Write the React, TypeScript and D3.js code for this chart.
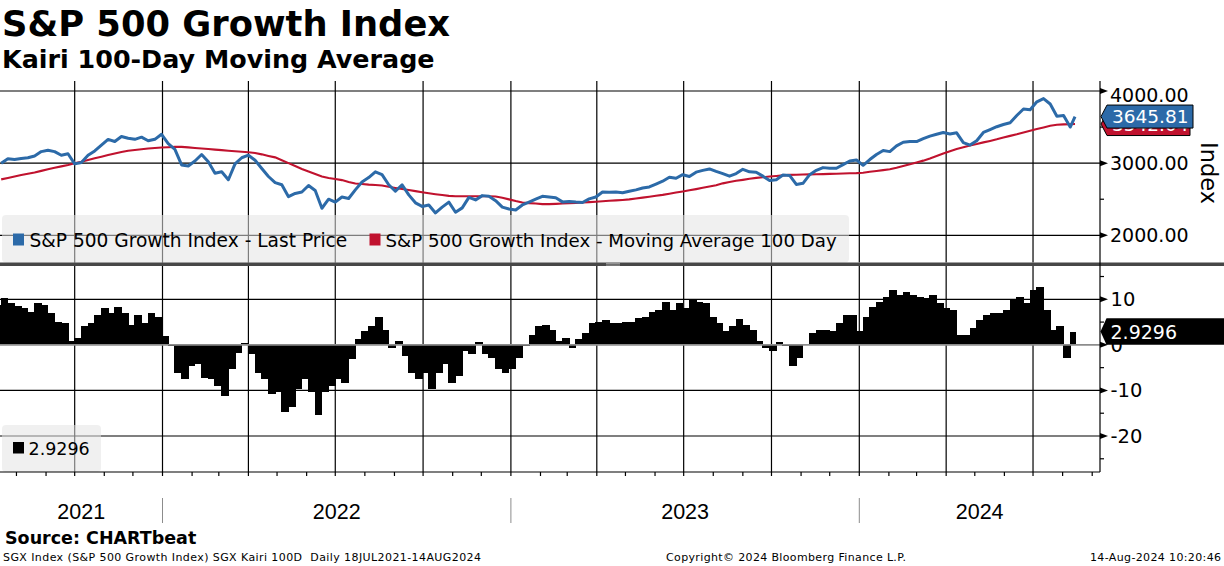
import * as d3 from "d3";

// weekly closes (Fridays), 16 Jul 2021 .. 9 Aug 2024, then the last print
const firstWeek = new Date(2021, 6, 16);
const weekStop = new Date(2024, 7, 10);
const lastDay = new Date(2024, 7, 14);

const priceWeekly = [
  3000, 3060, 3050, 3065, 3074, 3100, 3160, 3180, 3160, 3110,
  3130, 2990, 3010, 3110, 3170, 3250, 3329, 3300, 3370, 3345,
  3330, 3360, 3310, 3330, 3400, 3270, 3190, 2975, 2960, 3030,
  3120, 3018, 2860, 2880, 2770, 2990, 3075, 3110, 3040, 2926,
  2815, 2730, 2700, 2535, 2580, 2600, 2690, 2620, 2375, 2500,
  2460, 2530, 2510, 2630, 2740, 2800, 2880, 2840, 2700, 2610,
  2700, 2560, 2450, 2400, 2420, 2310, 2390, 2460, 2320, 2380,
  2525, 2490, 2550, 2540, 2480, 2390, 2365, 2350, 2420, 2460,
  2500, 2540, 2530, 2520, 2463, 2470, 2460, 2455, 2505, 2530,
  2600, 2595, 2600, 2590, 2610, 2630, 2655, 2670, 2710, 2750,
  2805, 2790, 2840, 2815, 2875, 2900, 2920, 2885, 2855, 2820,
  2855, 2915, 2880, 2875, 2820, 2760, 2770, 2835, 2830, 2705,
  2720, 2840, 2900, 2938, 2930, 2930, 2980, 3030, 3045, 2970,
  3050, 3120, 3175, 3160, 3240, 3290, 3300, 3300, 3340, 3375,
  3400, 3425, 3405, 3420, 3285, 3250, 3310, 3425, 3465, 3505,
  3535, 3560, 3660, 3750, 3740, 3850, 3895, 3820, 3650, 3660,
  3500,
];

const maWeekly = [
  2775, 2795, 2815, 2835, 2852, 2870, 2893, 2915, 2935, 2955,
  2975, 2998, 3020, 3045, 3068, 3090, 3112, 3135, 3155, 3172,
  3182, 3192, 3202, 3210, 3216, 3220, 3225, 3226, 3218, 3210,
  3203, 3196, 3188, 3180, 3172, 3165, 3158, 3150, 3140, 3122,
  3100, 3080, 3040, 3000, 2960, 2920, 2885, 2850, 2815, 2795,
  2780, 2765, 2740, 2718, 2710, 2702, 2697, 2690, 2672, 2656,
  2642, 2628, 2612, 2597, 2583, 2570, 2558, 2547, 2542, 2542,
  2542, 2542, 2542, 2542, 2538, 2520, 2498, 2475, 2455, 2446,
  2440, 2432, 2432, 2436, 2441, 2445, 2450, 2455, 2460, 2466,
  2472, 2478, 2484, 2490, 2498, 2510, 2522, 2535, 2548, 2560,
  2575, 2592, 2608, 2624, 2640, 2658, 2676, 2694, 2720, 2740,
  2755, 2768, 2783, 2796, 2805, 2815, 2822, 2831, 2838, 2840,
  2842, 2844, 2846, 2848, 2851, 2854, 2857, 2860, 2862, 2868,
  2880, 2892, 2903, 2915, 2935, 2960, 2985, 3010, 3035, 3065,
  3100, 3135, 3165, 3195, 3220, 3245, 3265, 3288, 3308, 3330,
  3355, 3378, 3400, 3425, 3448, 3472, 3495, 3518, 3532, 3538,
  3540,
];

const kairiWeekly = [
  8.8, 10.2, 9.1, 8.6, 8.0, 7.2, 9.1, 8.8, 7.0, 5.1,
  4.8, 0.8, 1.5, 4.1, 4.9, 6.6, 8.0, 7.0, 8.4, 7.0,
  4.4, 6.6, 4.8, 7.0, 6.2, 1.9, -0.3, -6.1, -7.5, -4.6,
  -4.3, -7.2, -7.5, -9.0, -11.2, -5.4, -1.7, 0.4, -2.1, -6.1,
  -7.5, -10.8, -10.4, -14.8, -13.7, -9.7, -7.5, -10.4, -15.5, -10.4,
  -9.0, -7.5, -8.3, -3.2, 1.2, 3.0, 4.1, 6.2, 3.3, -0.7,
  0.8, -2.5, -6.1, -7.5, -6.1, -9.7, -6.1, -4.3, -8.3, -6.8,
  -1.4, -2.1, 0.6, -2.1, -2.8, -5.4, -6.1, -5.4, -2.8, -0.3,
  2.2, 4.1, 4.4, 3.3, 0.8, 1.5, -0.7, 1.2, 2.6, 4.8,
  5.1, 5.5, 4.9, 4.8, 5.1, 5.1, 5.9, 6.2, 7.3, 7.7,
  9.3, 7.7, 9.1, 8.0, 9.9, 9.3, 9.1, 6.2, 4.8, 3.0,
  4.1, 5.7, 4.4, 3.3, 0.8, -0.7, -1.4, 0.6, -0.3, -4.6,
  -2.8, -0.1, 2.6, 3.3, 3.3, 3.0, 4.8, 6.6, 6.6, 3.0,
  6.2, 8.4, 9.3, 10.6, 12.0, 10.9, 11.7, 10.9, 10.6, 10.2,
  10.9, 9.1, 8.0, 7.7, 2.2, 2.2, 3.7, 5.5, 6.6, 7.0,
  7.0, 7.7, 9.9, 10.6, 9.1, 12.0, 12.8, 7.7, 3.3, 4.1,
  -2.8,
];

const lastPrice = 3645.81;
const lastMa = 3542.04;
const lastKairi = 2.9296;

const priceTicks = [2000, 3000, 4000];
const priceMinor = [2500, 3500];
const kairiTicks = [-20, -10, 0, 10];
const kairiMinor = [-25, -15, -5, 5, 15];
const yearLabels = [2021, 2022, 2023, 2024];

const W = 1224;
const H = 566;
const axisX = 1100;
const topY0 = 81;
const topY1 = 262.5;
const botY0 = 266;
const botY1 = 472;

const BLUE = "#2c6aa8";
const RED = "#c0122e";
const FONT = "'DejaVu Sans', Verdana, sans-serif";
const YFONT = "'Liberation Sans', Arial, sans-serif";

function tag(cy: number, h: number, x0: number, x1: number) {
  return `M${x0},${cy} L${x0 + 6},${cy - h / 2} L${x1},${cy - h / 2} L${x1},${cy + h / 2} L${x0 + 6},${cy + h / 2} Z`;
}

export default function App() {
  const x = d3.scaleTime()
    .domain([new Date(2022, 0, 1), new Date(2024, 0, 1)])
    .range([162.5, 859.3]);
  const yP = d3.scaleLinear().domain([2000, 4000]).range([235.3, 91]);
  const yK = d3.scaleLinear().domain([-20, 10]).range([436, 299.3]);

  const dates = [...d3.timeFriday.range(firstWeek, weekStop), lastDay];
  const price = [...priceWeekly, lastPrice];
  const ma = [...maWeekly, lastMa];
  const kairi = [...kairiWeekly, lastKairi];

  const line = d3.line<number>()
    .x((_, i) => x(dates[i]))
    .y((v) => yP(v));

  const t0 = x.invert(0);
  const t1 = x.invert(axisX);
  const quarters = d3.timeMonth.every(3)!.range(t0, t1);
  const months = d3.timeMonth.range(t0, t1);
  const yearStarts = d3.timeYear.range(t0, t1);

  const bars = kairi.map((v, i) => {
    const prev = i === 0 ? d3.timeDay.offset(dates[0], -7) : dates[i - 1];
    const a = Math.max(0, Math.floor(x(prev)));
    const b = Math.ceil(x(dates[i]));
    return { x: a, w: b - a, y: Math.min(yK(v), yK(0)), h: Math.abs(yK(v) - yK(0)) };
  });

  const yearBounds = [0, ...yearStarts.map((d) => x(d)), axisX];

  const tri = (y: number) => `M${axisX},${y - 3} L${axisX + 8},${y} L${axisX},${y + 3} Z`;

  return (
    <>
      <style>{`body{margin:0}`}</style>
      <svg width={W} height={H} style={{ display: "block", background: "#fff" }}>
        <defs>
          <clipPath id="topClip">
            <rect x={0} y={topY0} width={axisX} height={topY1 - topY0} />
          </clipPath>
          <clipPath id="botClip">
            <rect x={0} y={botY0} width={axisX} height={botY1 - botY0} />
          </clipPath>
        </defs>

        <text x={2} y={36} fontFamily={FONT} fontWeight="bold" fontSize={35.3}>
          S&amp;P 500 Growth Index
        </text>
        <text x={2} y={68} fontFamily={FONT} fontWeight="bold" fontSize={25.4}>
          Kairi 100-Day Moving Average
        </text>

        {/* grid, top panel */}
        {quarters.map((d) => (
          <line key={"qt" + +d} x1={x(d)} x2={x(d)} y1={topY0} y2={topY1} stroke="#000" strokeWidth={1.2} />
        ))}
        {priceTicks.map((v) => (
          <line key={"pg" + v} x1={0} x2={axisX} y1={yP(v)} y2={yP(v)} stroke="#000" strokeWidth={1.2} />
        ))}

        {/* grid, bottom panel */}
        {quarters.map((d) => (
          <line key={"qb" + +d} x1={x(d)} x2={x(d)} y1={botY0} y2={botY1} stroke="#000" strokeWidth={1.2} />
        ))}
        {kairiTicks.filter((v) => v !== 0).map((v) => (
          <line key={"kg" + v} x1={0} x2={axisX} y1={yK(v)} y2={yK(v)} stroke="#000" strokeWidth={1.2} />
        ))}

        {/* series */}
        <g clipPath="url(#topClip)">
          <path d={line(ma) ?? ""} fill="none" stroke={RED} strokeWidth={2.1} />
          <path d={line(price) ?? ""} fill="none" stroke={BLUE} strokeWidth={3} strokeLinejoin="round" />
        </g>
        <g clipPath="url(#botClip)" shapeRendering="crispEdges">
          {bars.map((b, i) => (
            <rect key={i} x={b.x} y={b.y} width={b.w} height={b.h} fill="#000" />
          ))}
        </g>
        <line x1={0} x2={axisX} y1={yK(0)} y2={yK(0)} stroke="#8c8c8c" strokeWidth={1.6} />

        {/* legends */}
        <rect x={2} y={215} width={847} height={topY1 - 215} rx={4} fill="#e4e4e4" opacity={0.55} />
        <rect x={13} y={233.5} width={11} height={12} fill={BLUE} />
        <text x={29.5} y={246.7} fontFamily={FONT} fontSize={18.6}>S&amp;P 500 Growth Index - Last Price</text>
        <rect x={369.5} y={233.5} width={11} height={12} fill={RED} />
        <text x={385.5} y={246.7} fontFamily={FONT} fontSize={18.2}>S&amp;P 500 Growth Index - Moving Average 100 Day</text>

        <rect x={2} y={425} width={99} height={botY1 - 425} rx={4} fill="#e4e4e4" opacity={0.55} />
        <rect x={13} y={442} width={11} height={11.5} fill="#000" />
        <text x={28.5} y={455} fontFamily={FONT} fontSize={17.5}>{lastKairi.toFixed(4)}</text>

        {/* separator */}
        <rect x={0} y={topY1} width={W} height={botY0 - topY1} fill="#474747" />
        <line x1={606} x2={620} y1={263.6} y2={263.6} stroke="#b0b0b0" strokeWidth={0.8} />
        <line x1={606} x2={620} y1={265.1} y2={265.1} stroke="#b0b0b0" strokeWidth={0.8} />

        {/* right axis */}
        <line x1={axisX} x2={axisX} y1={topY0} y2={botY1} stroke="#000" strokeWidth={1.2} />
        {priceTicks.map((v) => (
          <g key={"pt" + v}>
            <path d={tri(yP(v))} fill="#000" />
            <text x={1110} y={Math.max(yP(v) + 7, 102)} fontFamily={FONT} fontSize={19}>
              {v.toFixed(2)}
            </text>
          </g>
        ))}
        {priceMinor.map((v) => (
          <line key={"pm" + v} x1={axisX} x2={axisX + 4} y1={yP(v)} y2={yP(v)} stroke="#000" strokeWidth={1.2} />
        ))}
        {kairiTicks.map((v) => (
          <g key={"kt" + v}>
            <path d={tri(yK(v))} fill="#000" />
            <text x={1110.5} y={yK(v) + 7} fontFamily={FONT} fontSize={19.5}>
              {v}
            </text>
          </g>
        ))}
        {kairiMinor.map((v) => (
          <line key={"km" + v} x1={axisX} x2={axisX + 4} y1={yK(v)} y2={yK(v)} stroke="#000" strokeWidth={1.2} />
        ))}
        <text
          transform="translate(1201,173) rotate(90)"
          textAnchor="middle"
          fontFamily={FONT}
          fontSize={22.5}
        >
          Index
        </text>

        {/* last value tags */}
        <path d={tag(yP(lastMa), 23, 1101, 1190)} fill={RED} stroke="#000" strokeWidth={1} />
        <text x={1112} y={yP(lastMa) + 6.7} fontFamily={FONT} fontSize={18.5} fill="#fff">
          {lastMa.toFixed(2)}
        </text>
        <path d={tag(yP(lastPrice), 23, 1101, 1193)} fill={BLUE} stroke="#000" strokeWidth={1} />
        <text x={1112} y={yP(lastPrice) + 6.7} fontFamily={FONT} fontSize={18.5} fill="#fff">
          {lastPrice.toFixed(2)}
        </text>
        <path d={tag(yK(lastKairi), 26.4, 1100.5, W + 2)} fill="#000" />
        <text x={1110.5} y={yK(lastKairi) + 7} fontFamily={FONT} fontSize={19} fill="#fff">
          {lastKairi.toFixed(4)}
        </text>

        {/* x axis */}
        <line x1={0} x2={axisX} y1={botY1} y2={botY1} stroke="#000" strokeWidth={1.2} />
        {months.map((d) => (
          <line key={"m" + +d} x1={x(d)} x2={x(d)} y1={botY1} y2={botY1 + 4} stroke="#000" strokeWidth={1.2} />
        ))}
        {yearStarts.map((d) => (
          <line key={"ys" + +d} x1={x(d)} x2={x(d)} y1={498} y2={523} stroke="#8c8c8c" strokeWidth={1} />
        ))}
        {yearLabels.map((yr, i) => (
          <text
            key={yr}
            x={(yearBounds[i] + yearBounds[i + 1]) / 2}
            y={519.3}
            textAnchor="middle"
            fontFamily={YFONT}
            fontSize={21.5}
          >
            {yr}
          </text>
        ))}

        {/* footer */}
        <text x={5} y={544} fontFamily={FONT} fontWeight="bold" fontSize={17.5}>
          Source:  CHARTbeat
        </text>
        <text x={3} y={561} fontFamily={FONT} fontSize={11} textLength={478} xmlSpace="preserve">
          SGX Index (S&amp;P 500 Growth Index) SGX Kairi 100D  Daily 18JUL2021-14AUG2024
        </text>
        <text x={666} y={561} fontFamily={FONT} fontSize={11} textLength={240}>
          Copyright© 2024 Bloomberg Finance L.P.
        </text>
        <text x={1090} y={561} fontFamily={FONT} fontSize={11} textLength={131}>
          14-Aug-2024 10:20:46
        </text>
      </svg>
    </>
  );
}
